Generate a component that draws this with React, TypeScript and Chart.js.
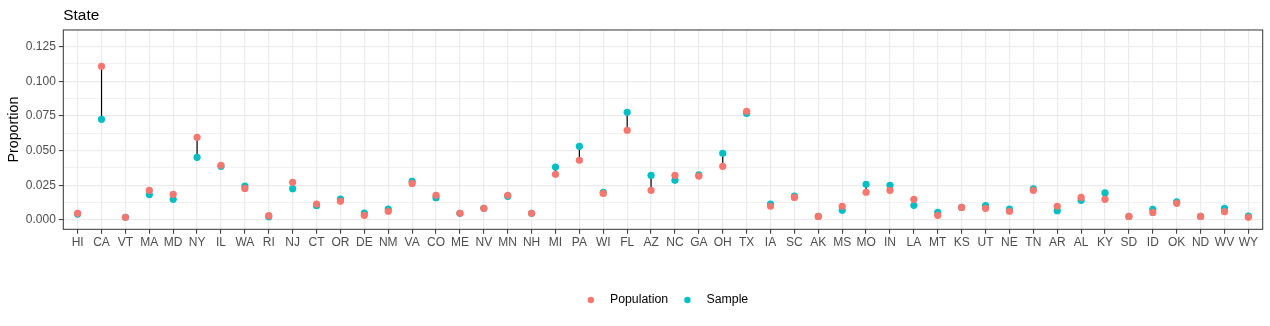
import { useEffect, useRef } from 'react';
import { Chart, registerables } from 'chart.js';

Chart.register(...registerables);

const states = ['HI','CA','VT','MA','MD','NY','IL','WA','RI','NJ','CT','OR','DE','NM','VA','CO','ME','NV','MN','NH','MI','PA','WI','FL','AZ','NC','GA','OH','TX','IA','SC','AK','MS','MO','IN','LA','MT','KS','UT','NE','TN','AR','AL','KY','SD','ID','OK','ND','WV','WY'];

const population = [0.0048,0.1108,0.0019,0.0214,0.0185,0.0596,0.0394,0.0228,0.0031,0.0272,0.0115,0.0135,0.0034,0.0063,0.0264,0.0178,0.0048,0.0084,0.0178,0.0048,0.0329,0.0430,0.0192,0.0647,0.0214,0.0322,0.0317,0.0387,0.0784,0.0099,0.0163,0.0026,0.0099,0.0200,0.0214,0.0149,0.0034,0.0091,0.0084,0.0063,0.0214,0.0099,0.0163,0.0149,0.0026,0.0055,0.0120,0.0026,0.0060,0.0019];

const sample = [0.0043,0.0726,0.0019,0.0183,0.0149,0.0452,0.0387,0.0245,0.0024,0.0226,0.0103,0.0151,0.0050,0.0079,0.0279,0.0161,0.0048,0.0084,0.0171,0.0048,0.0382,0.0531,0.0200,0.0776,0.0322,0.0286,0.0325,0.0481,0.0769,0.0115,0.0173,0.0026,0.0070,0.0257,0.0250,0.0106,0.0055,0.0091,0.0103,0.0079,0.0224,0.0067,0.0142,0.0195,0.0026,0.0077,0.0130,0.0026,0.0084,0.0029];

const yMajorTicks = [0, 0.025, 0.05, 0.075, 0.1, 0.125];
const yMinorTicks = [0.0125, 0.0375, 0.0625, 0.0875, 0.1125];
const seriesNames = ['Population', 'Sample'];
const seriesColors = ['#F8766D', '#00BFC4'];
const chartTitle = 'State';
const yTitle = 'Proportion';

const isMajor = (v: number) => Math.abs(v / 0.025 - Math.round(v / 0.025)) < 1e-6;

function dot(color: string) {
  const c = document.createElement('canvas');
  c.width = 8;
  c.height = 8;
  const g = c.getContext('2d')!;
  g.fillStyle = color;
  g.beginPath();
  g.arc(4, 4, 3.2, 0, Math.PI * 2);
  g.fill();
  return c;
}

export default function App() {
  const ref = useRef<HTMLCanvasElement | null>(null);

  useEffect(() => {
    Chart.defaults.font.family = '"Liberation Sans", Arial, sans-serif';
    const segData: any[] = [];
    states.forEach((_, i) => {
      segData.push({ x: i, y: population[i] }, { x: i, y: sample[i] }, { x: i, y: null });
    });

    const panelBorder = {
      id: 'panelBorder',
      afterDatasetsDraw(chart: any) {
        const { ctx, chartArea: a } = chart;
        ctx.save();
        ctx.strokeStyle = '#333333';
        ctx.lineWidth = 1;
        ctx.strokeRect(a.left, a.top, a.right - a.left, a.bottom - a.top);
        ctx.restore();
      },
    };

    const chart = new Chart(ref.current as HTMLCanvasElement, {
      type: 'scatter',
      data: {
        datasets: [
          {
            label: seriesNames[0],
            data: states.map((_, i) => ({ x: i, y: population[i] })),
            backgroundColor: seriesColors[0],
            borderColor: seriesColors[0],
            pointRadius: 3.6,
            pointBorderWidth: 0,
          },
          {
            label: seriesNames[1],
            data: states.map((_, i) => ({ x: i, y: sample[i] })),
            backgroundColor: seriesColors[1],
            borderColor: seriesColors[1],
            pointRadius: 3.6,
            pointBorderWidth: 0,
          },
          {
            label: 'segment',
            data: segData,
            showLine: true,
            spanGaps: false,
            borderColor: '#000000',
            borderWidth: 1.2,
            pointRadius: 0,
          } as any,
        ],
      },
      options: {
        responsive: false,
        animation: false,
        events: [],
        layout: { padding: { top: 0, left: 0, right: 7.3, bottom: 9.85 } },
        scales: {
          x: {
            type: 'linear',
            min: -0.6,
            max: 49.6,
            afterBuildTicks: (s: any) => {
              s.ticks = states.map((_, i) => ({ value: i }));
            },
            afterFit: (s: any) => {
              s.height = 58.25;
            },
            ticks: {
              callback: (v: any) => states[v as number],
              autoSkip: false,
              maxRotation: 0,
              color: '#4D4D4D',
              font: { size: 12 },
              padding: 2,
            },
            grid: {
              color: '#EBEBEB',
              lineWidth: 1.2,
              tickLength: 4.5,
              tickColor: '#333333',
              tickWidth: 1,
            },
            border: { display: false },
          },
          y: {
            type: 'linear',
            min: -0.0067,
            max: 0.137,
            afterBuildTicks: (s: any) => {
              s.ticks = [...yMajorTicks, ...yMinorTicks].sort((a, b) => a - b).map((v) => ({ value: v }));
            },
            afterFit: (s: any) => {
              s.width = 63.3;
            },
            ticks: {
              callback: (v: any) => (isMajor(v as number) ? (v as number).toFixed(3) : ''),
              autoSkip: false,
              color: '#4D4D4D',
              font: { size: 12 },
              padding: 3,
            },
            grid: {
              color: '#EBEBEB',
              lineWidth: (c: any) => (isMajor(c.tick.value) ? 1.2 : 0.7),
              tickLength: 4.5,
              tickColor: (c: any) => (isMajor(c.tick.value) ? '#333333' : 'rgba(0,0,0,0)'),
              tickWidth: 1,
            },
            border: { display: false },
            title: {
              display: true,
              text: yTitle,
              color: '#000000',
              font: { size: 14.3 },
              padding: { top: 5, bottom: 0 },
            },
          },
        },
        plugins: {
          title: {
            display: true,
            text: chartTitle,
            align: 'start',
            fullSize: false,
            color: '#000000',
            font: { size: 15.4, weight: 'normal' },
            padding: { top: 6.25, bottom: 5.25 },
          },
          legend: {
            position: 'bottom',
            fullSize: false,
            labels: {
              usePointStyle: true,
              pointStyleWidth: 26,
              padding: 6.3,
              color: '#000000',
              font: { size: 12.3 },
              generateLabels: () =>
                seriesNames.map((n, i) => ({
                  text: n,
                  fillStyle: seriesColors[i],
                  strokeStyle: seriesColors[i],
                  lineWidth: 0,
                  pointStyle: dot(seriesColors[i]) as any,
                  hidden: false,
                  datasetIndex: i,
                  fontColor: '#000000',
                })),
            },
          },
          tooltip: { enabled: false },
        },
      },
      plugins: [panelBorder],
    } as any);

    return () => chart.destroy();
  }, []);

  return (
    <div style={{ position: 'fixed', left: 0, top: 0, width: 1270, height: 326 }}>
      <canvas ref={ref} width={1270} height={326} style={{ display: 'block' }} />
    </div>
  );
}
